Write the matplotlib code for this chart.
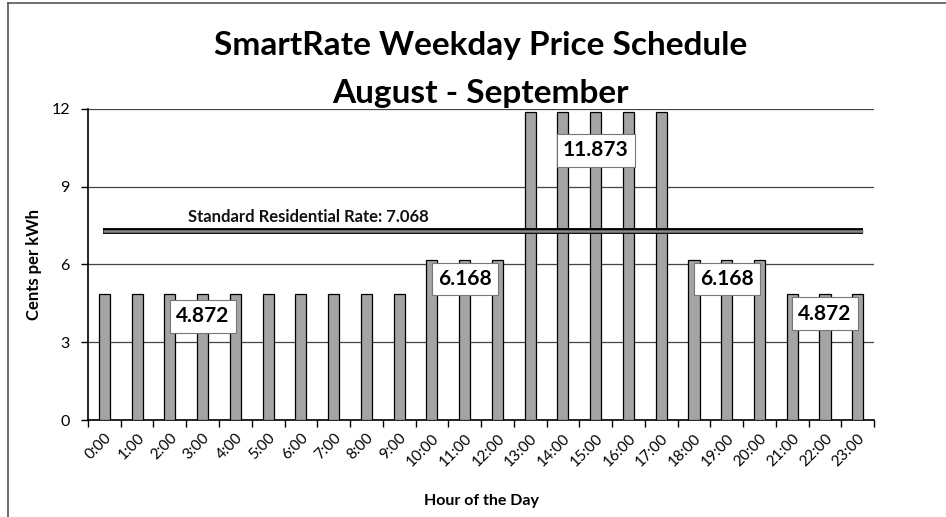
import matplotlib
matplotlib.use("Agg")
import matplotlib.pyplot as plt
import numpy as np

plt.rcParams['font.family'] = ['Lato', 'DejaVu Sans']

hours = [f"{h}:00" for h in range(24)]
prices = [4.872]*10 + [6.168]*3 + [11.873]*5 + [6.168]*3 + [4.872]*3
standard_rate_level = 7.3
standard_rate_label = "Standard Residential Rate: 7.068"
label_texts = ["4.872", "6.168", "11.873", "6.168", "4.872"]
label_x = [3, 11, 15, 19, 22]
label_y = [4.0, 5.45, 10.4, 5.45, 4.1]

fig = plt.figure(figsize=(9.46, 5.17), dpi=100)
ax = fig.add_axes([0.093, 0.1876, 0.831, 0.6016])

x = np.arange(len(hours))
ax.bar(x, prices, width=0.34, color='#a4a4a4', edgecolor='black', linewidth=0.9, zorder=3)

# standard rate line
ax.plot([-0.05, 23.15], [standard_rate_level]*2, color='black', lw=4.2, zorder=4, solid_capstyle='butt')
ax.plot([-0.05, 23.15], [standard_rate_level]*2, color='#8a8a8a', lw=1.8, zorder=5, solid_capstyle='butt')
ax.text(2.55, standard_rate_level + 0.55, standard_rate_label, fontsize=12, fontweight='bold',
        ha='left', va='center', color='#111111', zorder=6)

for t, lx, ly in zip(label_texts, label_x, label_y):
    ax.text(lx, ly, t, fontsize=15, fontweight='bold', ha='center', va='center', zorder=7,
            bbox=dict(boxstyle='square,pad=0.3', facecolor='white', edgecolor='#777777', linewidth=0.8))

ax.set_xlim(-0.5, 23.5)
ax.set_ylim(0, 12)
ax.set_yticks([0, 3, 6, 9, 12])
ax.set_yticklabels(['0', '3', '6', '9', '12'], fontsize=11.5)
ax.yaxis.grid(True, color='#444444', linewidth=0.9, zorder=0)
ax.set_axisbelow(True)

ax.set_xticks(np.arange(-0.5, 24, 1))
ax.set_xticklabels([])
ax.set_xticks(x, minor=True)
ax.set_xticklabels(hours, minor=True, rotation=45, ha='right', va='top', fontsize=11, rotation_mode='anchor')
ax.tick_params(axis='x', which='minor', length=0, pad=8)
ax.tick_params(axis='x', which='major', length=5, width=1, direction='out')
ax.tick_params(axis='y', length=5, width=1, direction='out', pad=8)

for s in ['top', 'right']:
    ax.spines[s].set_visible(False)
for s in ['left', 'bottom']:
    ax.spines[s].set_linewidth(1.2)

ax.set_ylabel('Cents per kWh', fontsize=12, fontweight='bold', labelpad=7)
ax.set_xlabel('Hour of the Day', fontsize=11.5, fontweight='bold', labelpad=18)

fig.text(0.508, 0.912, 'SmartRate Weekday Price Schedule', ha='center', va='center', fontsize=24, fontweight='bold')
fig.text(0.508, 0.82, 'August - September', ha='center', va='center', fontsize=24, fontweight='bold')

# outer frame (left and top edges)
fig.add_artist(plt.Line2D([0.0085, 0.0085], [0.0, 0.995], color='#555555', lw=1.2, transform=fig.transFigure))
fig.add_artist(plt.Line2D([0.0085, 1.0], [0.995, 0.995], color='#555555', lw=1.2, transform=fig.transFigure))

fig.savefig('out.png', dpi=100)
